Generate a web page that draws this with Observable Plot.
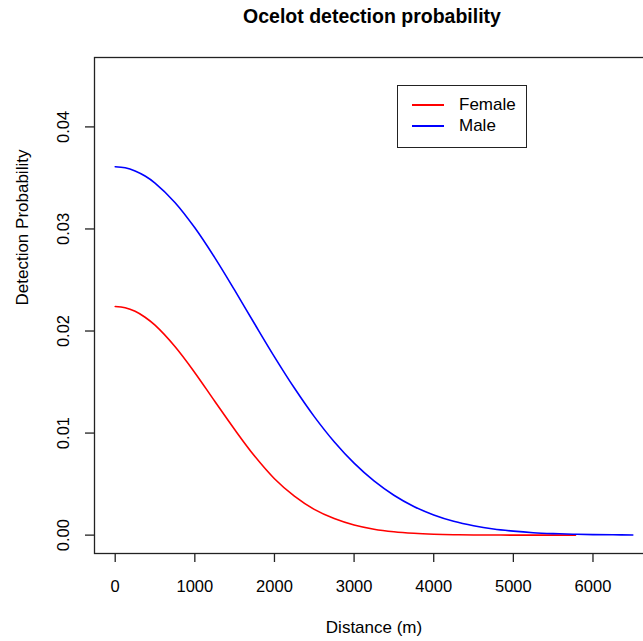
<!DOCTYPE html>
<html>
<head>
<meta charset="utf-8">
<script src="https://cdn.jsdelivr.net/npm/d3@7"></script>
<script src="https://cdn.jsdelivr.net/npm/@observablehq/plot@0.6"></script>
<style>
html, body { margin: 0; padding: 0; background: #fff; overflow: hidden; width: 643px; height: 641px; }
#wrap { position: relative; width: 643px; height: 641px; overflow: hidden; font-family: "Liberation Sans", Arial, sans-serif; color: #000; }
#title { position: absolute; left: 372px; top: 6px; transform: translateX(-50%); white-space: nowrap; font-size: 19.5px; line-height: 20px; font-weight: bold; }
#chart { position: absolute; left: 0; top: 40px; width: 660px; height: 601px; }
#chart svg { max-width: none !important; width: 660px !important; height: 601px !important; }
#legend { position: absolute; left: 397px; top: 85px; width: 130px; height: 63px; box-sizing: border-box; border: 1.3px solid #222; background: #fff; }
.lg-line { position: absolute; left: 14px; width: 32px; height: 1.6px; }
.lg-text { position: absolute; left: 61px; font-size: 17px; line-height: 20px; white-space: nowrap; }
</style>
</head>
<body>
<div id="wrap">
  <div id="title"></div>
  <div id="chart"></div>
  <div id="legend"></div>
</div>
<script>
// ---- data ----
const titleText = "Ocelot detection probability";
const xLabel = "Distance (m)";
const yLabel = "Detection Probability";
const seriesNames = ["Female", "Male"];
const seriesColors = ["#ff0000", "#0000ff"];

const xTicks = [0, 1000, 2000, 3000, 4000, 5000, 6000];
const xTickLabels = ["0", "1000", "2000", "3000", "4000", "5000", "6000"];
const yTicks = [0, 0.01, 0.02, 0.03, 0.04];
const yTickLabels = ["0.00", "0.01", "0.02", "0.03", "0.04"];

const femaleDist = [0, 125, 250, 375, 500, 750, 1000, 1250, 1500, 1750, 2000, 2250, 2500, 2750, 3000, 3250, 3500, 3750, 4000, 4250, 4500, 4750, 5000, 5250, 5500, 5780];
const femaleProb = [0.02240, 0.02228, 0.02193, 0.02135, 0.02057, 0.01848, 0.01592, 0.01312, 0.01035, 0.00775, 0.00553, 0.00382, 0.00252, 0.00162, 0.00099, 0.00058, 0.00033, 0.00018, 0.00009, 0.00004, 0.00002, 0.00001, 0.0, 0.0, 0.0, 0.0];

const maleDist = [0, 125, 250, 375, 500, 750, 1000, 1250, 1500, 1750, 2000, 2250, 2500, 2750, 3000, 3250, 3500, 3750, 4000, 4250, 4500, 4750, 5000, 5250, 5500, 5750, 6000, 6250, 6500];
const maleProb = [0.03610, 0.03600, 0.03569, 0.03519, 0.03450, 0.03260, 0.03011, 0.02719, 0.02400, 0.02071, 0.01747, 0.01441, 0.01161, 0.00915, 0.00705, 0.00531, 0.00391, 0.00281, 0.00198, 0.00136, 0.00092, 0.00060, 0.00039, 0.00024, 0.00015, 0.00009, 0.00005, 0.00003, 0.00002];

// ---- tables built from the arrays ----
const female = femaleDist.map((d, i) => ({d, p: femaleProb[i]}));
const male = maleDist.map((d, i) => ({d, p: maleProb[i]}));
const xTickTable = xTicks.map((v, i) => ({v, t: xTickLabels[i]}));
const yTickTable = yTicks.map((v, i) => ({v, t: yTickLabels[i]}));

document.getElementById("title").textContent = titleText;

const chart = Plot.plot({
  width: 660,
  height: 601,
  marginTop: 17,
  marginBottom: 88,
  marginLeft: 94,
  marginRight: 7,
  x: {domain: [-260, 6760], label: null},
  y: {domain: [-0.0018, 0.0468], label: null},
  style: {fontFamily: "'Liberation Sans', Arial, sans-serif", fontSize: "16.5px", color: "#000", background: "transparent", overflow: "visible"},
  marks: [
    Plot.line(female, {x: "d", y: "p", stroke: seriesColors[0], strokeWidth: 1.6, curve: "catmull-rom"}),
    Plot.line(male, {x: "d", y: "p", stroke: seriesColors[1], strokeWidth: 1.6, curve: "catmull-rom"}),
    Plot.frame({stroke: "#222", strokeWidth: 1.3}),
    Plot.axisX({ticks: xTicks, tickSize: 9, tickFormat: () => "", stroke: "#222", strokeWidth: 1.3}),
    Plot.axisY({ticks: yTicks, tickSize: 9, tickFormat: () => "", stroke: "#222", strokeWidth: 1.3}),
    Plot.text(xTickTable, {x: "v", text: "t", frameAnchor: "bottom", dy: 33, lineAnchor: "middle", fill: "#000", fontSize: 16.5}),
    Plot.text(yTickTable, {y: "v", text: "t", frameAnchor: "left", dx: -31, rotate: -90, lineAnchor: "middle", textAnchor: "middle", fill: "#000", fontSize: 16.5}),
    Plot.text([xLabel], {text: d => d, frameAnchor: "bottom", dy: 74, lineAnchor: "middle", fill: "#000", fontSize: 17}),
    Plot.text([yLabel], {text: d => d, frameAnchor: "left", dx: -72, rotate: -90, lineAnchor: "middle", fill: "#000", fontSize: 17})
  ]
});
document.getElementById("chart").appendChild(chart);

// legend
const legend = document.getElementById("legend");
const rowY = [19, 40];
seriesNames.forEach((name, i) => {
  const ln = document.createElement("div");
  ln.className = "lg-line";
  ln.style.top = (rowY[i] - 1) + "px";
  ln.style.background = seriesColors[i];
  legend.appendChild(ln);
  const tx = document.createElement("div");
  tx.className = "lg-text";
  tx.style.top = (rowY[i] - 10) + "px";
  tx.textContent = name;
  legend.appendChild(tx);
});
</script>
</body>
</html>
